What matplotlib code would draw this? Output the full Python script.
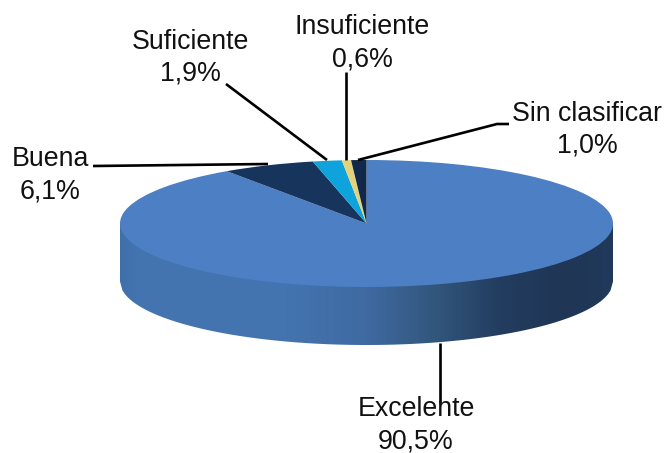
import numpy as np
import matplotlib
matplotlib.use("Agg")
import matplotlib.pyplot as plt
from matplotlib.colors import LinearSegmentedColormap
from matplotlib.patches import Polygon

W, H = 667, 453

categories = ["Excelente", "Buena", "Suficiente", "Insuficiente", "Sin clasificar"]
shares = [90.5, 6.1, 1.9, 0.6, 1.0]
share_labels = ["90,5%", "6,1%", "1,9%", "0,6%", "1,0%"]
colors = ["#4c7fc3", "#17345c", "#0ea3dc", "#e3d27c", "#10294a"]

# pixel geometry of the disc
cx, cy = 366.5, 223.5
rx, ry = 246.5, 63.5
depth = 58

# label centres and leader lines, in picture pixels
label_xy = [(416, 425), (50, 175), (190, 58), (362, 43), (587, 130)]
leaders = [
    ([440, 440], [343, 403]),
    ([93, 268], [166, 164]),
    ([226, 327], [84, 160]),
    ([346, 346], [72, 160]),
    ([509, 497, 358], [124, 124, 160]),
]

fig = plt.figure(figsize=(W / 100, H / 100), dpi=100)

# overlay in pixels for wall, leaders and text
ax = fig.add_axes([0, 0, 1, 1], zorder=1)
ax.set_xlim(0, W)
ax.set_ylim(H, 0)
ax.axis("off")

# side wall of the disc, shaded from left to right
xs = np.linspace(-1, 1, 200)
wall_top = cy + ry * np.sqrt(1 - xs ** 2)
wall_x = cx + rx * xs
outline = np.r_[np.c_[wall_x, wall_top + depth], np.c_[wall_x[::-1], cy + 0 * xs]]
clip = Polygon(outline, closed=True, fc="none", ec="none")
ax.add_patch(clip)
cmap = LinearSegmentedColormap.from_list("wall", [
    (0.00, "#4070aa"), (0.03, "#4474b0"), (0.32, "#4475b0"), (0.50, "#3f6aa2"),
    (0.63, "#33587f"), (0.77, "#233d60"), (0.90, "#1f3655"), (1.00, "#21395a")])
im = ax.imshow(np.linspace(0, 1, 256)[None, :], cmap=cmap, aspect="auto",
               extent=[cx - rx, cx + rx, cy + ry + depth, cy], zorder=1)
im.set_clip_path(clip)
ax.set_xlim(0, W)
ax.set_ylim(H, 0)

# top face: a real pie squashed into an ellipse
ax_pie = fig.add_axes([0, 0, 1, 1], zorder=2)
ax_pie.patch.set_alpha(0)
ax_pie.pie(shares, colors=colors, startangle=90, counterclock=False, radius=1,
           center=(0, 0), wedgeprops={"linewidth": 0})
ax_pie.set_aspect("auto")
ax_pie.set_xlim((0 - cx) / rx, (W - cx) / rx)
ax_pie.set_ylim((cy - H) / ry, cy / ry)
ax_pie.axis("off")

# leaders and labels above the pie
ax_top = fig.add_axes([0, 0, 1, 1], zorder=3)
ax_top.patch.set_alpha(0)
ax_top.set_xlim(0, W)
ax_top.set_ylim(H, 0)
ax_top.axis("off")
for lx, ly in leaders:
    ax_top.plot(lx, ly, color="black", lw=1.9, solid_capstyle="butt")
for name, pct, (x, y) in zip(categories, share_labels, label_xy):
    ax_top.text(x, y, f"{name}\n{pct}", ha="center", va="center",
                fontsize=19.3, family="Liberation Sans", color="#111111",
                linespacing=1.3)

fig.savefig("out.png", dpi=100)
